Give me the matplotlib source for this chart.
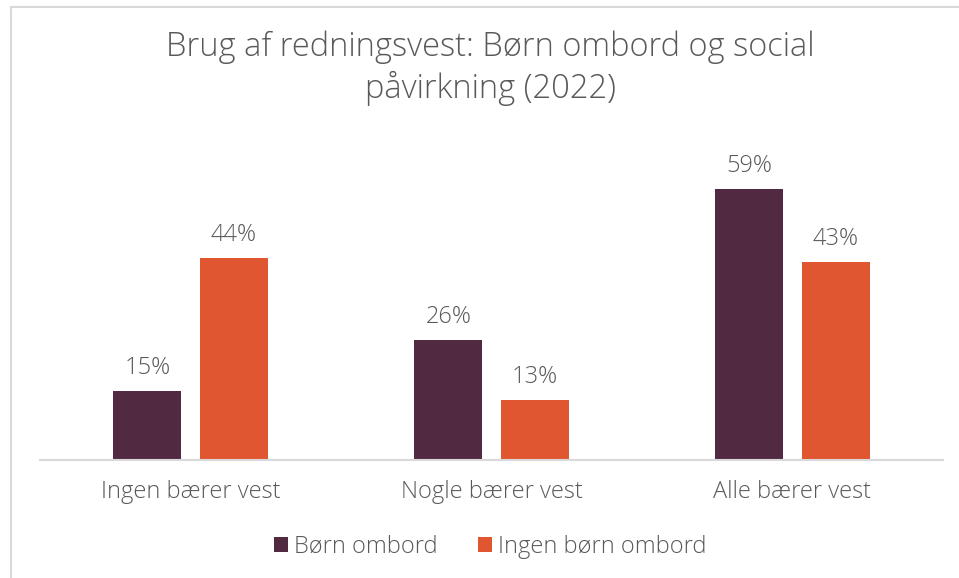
import matplotlib
matplotlib.use("Agg")
import matplotlib.pyplot as plt
from matplotlib.lines import Line2D
import numpy as np

categories = ["Ingen bærer vest", "Nogle bærer vest", "Alle bærer vest"]
series_names = ["Børn ombord", "Ingen børn ombord"]
born_ombord = [15, 26, 59]
ingen_born = [44, 13, 43]
colors = ["#512A41", "#E05631"]
title = "Brug af redningsvest: Børn ombord og social\npåvirkning (2022)"

plt.rcParams['font.family'] = ['Open Sans', 'DejaVu Sans']
fig = plt.figure(figsize=(9.59, 5.78), dpi=100)
ax = fig.add_axes([40/959, 1-460/578, 903/959, 322/578])

x = np.arange(len(categories))
w = 0.226
off = 0.143
txtc = "#595959"
fw = "light"
for vals, dx, c, name in [(born_ombord, -off, colors[0], series_names[0]),
                          (ingen_born, off, colors[1], series_names[1])]:
    bars = ax.bar(x + dx, vals, width=w, color=c, label=name)
    for b, v in zip(bars, vals):
        ax.text(b.get_x() + b.get_width()/2, v + 2.4, f"{v}%", ha="center", va="bottom",
                fontsize=17, color=txtc, fontweight=fw)

ax.set_xlim(-0.5, 2.5)
ax.set_ylim(0, 70)
ax.set_yticks([])
ax.set_xticks(x)
ax.set_xticklabels(categories, fontsize=17, color=txtc, fontweight=fw)
ax.tick_params(axis="x", length=0, pad=14.5)
for s in ["top", "right", "left"]:
    ax.spines[s].set_visible(False)
ax.spines["bottom"].set_color("#D9D9D9")
ax.spines["bottom"].set_linewidth(1.5)

fig.text(490/959, 1-68/578, title, ha="center", va="center", fontsize=23.5,
         color=txtc, linespacing=1.25, fontweight=fw)

leg = fig.legend(loc="center", bbox_to_anchor=(490/959, 1-547/578), ncol=2,
                 frameon=False, prop={"size": 17, "weight": fw}, handlelength=0.6,
                 handleheight=0.6, handletextpad=0.25, columnspacing=1.7)
for t in leg.get_texts():
    t.set_color(txtc)

# chart area border
fig.add_artist(Line2D([10.5/959, 10.5/959], [0, 1-6.5/578], transform=fig.transFigure,
                      color="#D9D9D9", lw=1.5))
fig.add_artist(Line2D([10.5/959, 1], [1-6.5/578, 1-6.5/578], transform=fig.transFigure,
                      color="#D9D9D9", lw=1.5))

fig.savefig("out.png", dpi=100, facecolor="white")
